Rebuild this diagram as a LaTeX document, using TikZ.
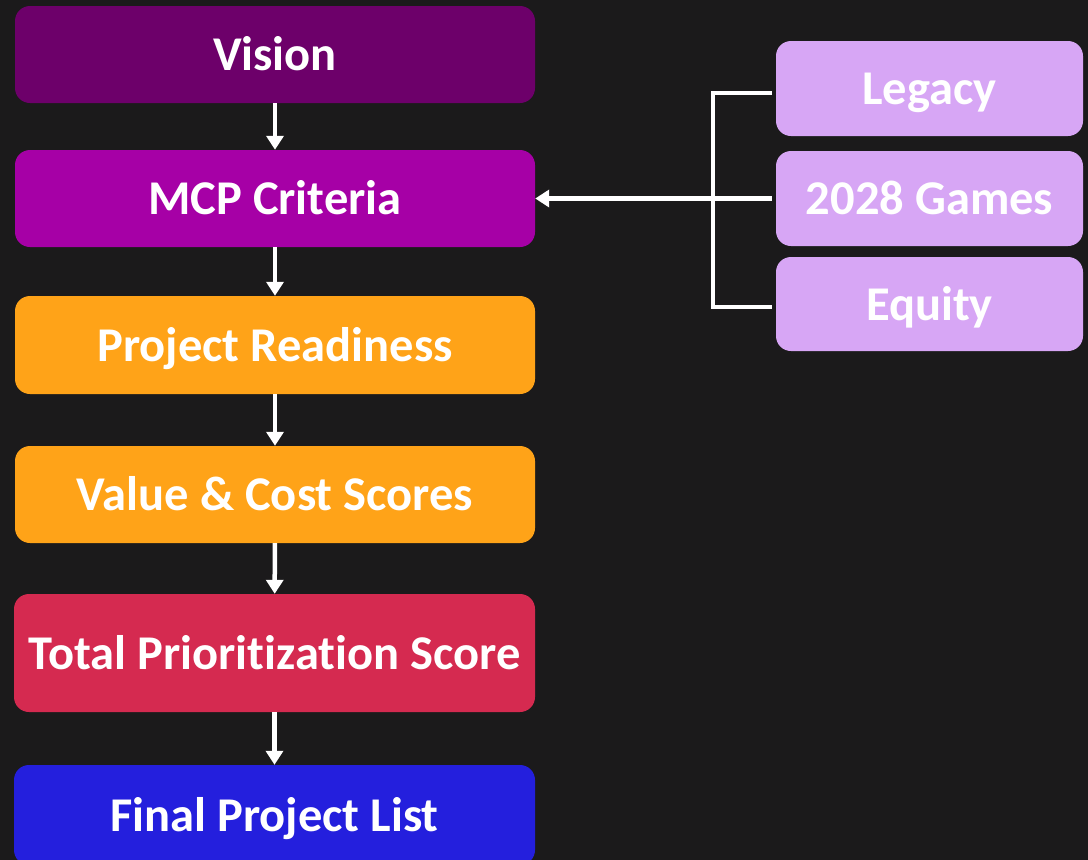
\documentclass[tikz,border=0pt]{standalone}
\usepackage{fontspec}
\setmainfont[RawFeature=-liga]{Carlito}
\usetikzlibrary{arrows.meta}
\definecolor{bg}{HTML}{1B1A1B}
\definecolor{cvision}{HTML}{6D006A}
\definecolor{cmcp}{HTML}{A600A6}
\definecolor{corange}{HTML}{FFA318}
\definecolor{cred}{HTML}{D52A50}
\definecolor{cblue}{HTML}{241FDD}
\definecolor{clilac}{HTML}{D7A6F5}
\begin{document}
\begin{tikzpicture}[x=1pt,y=-1pt,
  box/.style={rounded corners=15pt, inner sep=0pt, text=white,
    text height=39pt, text depth=7pt,
    font=\fontsize{48.5}{52}\selectfont\bfseries},
  wl/.style={draw=white, line width=4.5pt},
  arr/.style={wl, -{Triangle[width=17pt,length=14pt]}}]
\fill[bg] (0,0) rectangle (1088,860);
\clip (0,0) rectangle (1088,860);
\node[box, fill=cvision, minimum width=520pt, minimum height=97pt] (vision) at (275,54.5) {Vision};
\node[box, fill=cmcp, minimum width=520pt, minimum height=97pt] (mcp) at (275,198.5) {MCP Criteria};
\node[box, fill=corange, minimum width=520pt, minimum height=98pt] (ready) at (275,345) {Project Readiness};
\node[box, fill=corange, minimum width=520pt, minimum height=97pt] (value) at (275,494.5) {Value \& Cost Scores};
\node[box, fill=cred, minimum width=521pt, minimum height=118pt] (total) at (274.5,653) {Total Prioritization Score};
\node[box, fill=cblue, minimum width=521pt, minimum height=100pt] (final) at (274.5,815) {Final Project List};
\node[box, fill=clilac, minimum width=307pt, minimum height=95pt] (legacy) at (929.5,88.5) {Legacy};
\node[box, fill=clilac, minimum width=307pt, minimum height=95pt] (games) at (929.5,198.5) {2028 Games};
\node[box, fill=clilac, minimum width=307pt, minimum height=94pt] (equity) at (929.5,304) {Equity};
\draw[arr] (vision) -- (mcp);
\draw[arr] (mcp) -- (ready);
\draw[arr] (ready) -- (value);
\draw[arr] (value) -- (total);
\draw[arr] (total) -- (final);
\draw[wl] ([shift={(-4,4.5)}]legacy.west) -- (713,93) -- (713,307) -- ([shift={(-4,3)}]equity.west);
\draw[arr] ([xshift=-4pt]games.west) -- (mcp.east);
\end{tikzpicture}
\end{document}
